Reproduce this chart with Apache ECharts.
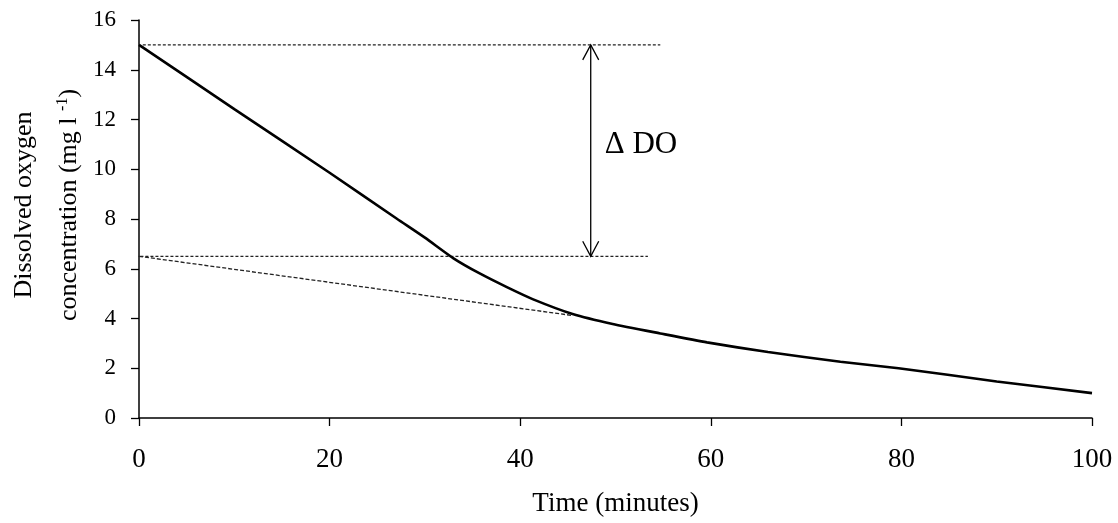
<!DOCTYPE html>
<html>
<head>
<meta charset="utf-8">
<script src="https://cdn.jsdelivr.net/npm/echarts@6/dist/echarts.min.js"></script>
<style>
  html, body { margin: 0; padding: 0; background: #fff; }
  #chart { width: 1118px; height: 523px; }
</style>
</head>
<body>
<div id="chart"></div>
<script>
// ---- Data ----
const timeMinutes = [0, 10, 20, 27.1, 30, 33, 35.8, 38.6, 41.3, 45.5, 49.7, 54.7, 59.6, 66, 73.6, 79.7, 90, 100];
const doValues    = [15, 12.42, 9.86, 8.0, 7.25, 6.42, 5.80, 5.26, 4.78, 4.18, 3.78, 3.40, 3.04, 2.65, 2.26, 2.0, 1.47, 1.0];

const upperRefX = [0.4, 54.7];
const upperRefY = [15, 15];
const lowerRefX = [-0.9, 53.4];
const lowerRefY = [6.5, 6.5];
const tangentX  = [0, 45.5];
const tangentY  = [6.5, 4.12];

const arrowX = 47.4;
const arrowTop = 15;
const arrowBottom = 6.5;
const deltaLabel = 'Δ DO';
const deltaLabelY = 11;

const xTicks = [0, 20, 40, 60, 80, 100];
const yTicks = [0, 2, 4, 6, 8, 10, 12, 14, 16];
const xTitle = 'Time (minutes)';
const yTitleLine1 = 'Dissolved oxygen';
const yTitleLine2 = 'concentration (mg l';
const yTitleSup = '-1';

// ---- Build ----
const zip = (xs, ys) => xs.map((x, i) => [x, ys[i]]);
const FONT = '"Liberation Serif", "Times New Roman", serif';

const chart = echarts.init(document.getElementById('chart'));
chart.setOption({
  backgroundColor: '#ffffff',
  animation: false,
  grid: { left: 139, right: 26, top: 20, bottom: 105, containLabel: false, outerBoundsMode: 'none' },
  xAxis: {
    type: 'value',
    min: xTicks[0], max: xTicks[xTicks.length - 1], interval: 20,
    name: xTitle,
    nameLocation: 'middle',
    nameGap: 72,
    nameMoveOverlap: false,
    nameTextStyle: { fontFamily: FONT, fontSize: 27, color: '#000' },
    axisLine: { lineStyle: { color: '#000', width: 1.5 } },
    axisTick: { show: true, inside: false, length: 8, lineStyle: { color: '#000', width: 1.3 } },
    axisLabel: { fontFamily: FONT, fontSize: 27, color: '#000', margin: 28 },
    splitLine: { show: false }
  },
  yAxis: {
    type: 'value',
    min: yTicks[0], max: yTicks[yTicks.length - 1], interval: 2,
    name: '{t|' + yTitleLine1 + '}\n{t|' + yTitleLine2 + ' }{s|' + yTitleSup + '}{t|)}',
    nameLocation: 'middle',
    nameRotate: 90,
    nameGap: 47,
    nameMoveOverlap: false,
    nameTextStyle: {
      fontFamily: FONT, fontSize: 26, color: '#000', lineHeight: 45,
      padding: [0, 0, 0, 28],
      rich: {
        t: { fontFamily: FONT, fontSize: 26, color: '#000', lineHeight: 45 },
        s: { fontFamily: FONT, fontSize: 16, color: '#000', lineHeight: 45, padding: [0, 0, 14, 0] }
      }
    },
    axisLine: { show: true, lineStyle: { color: '#000', width: 1.5 } },
    axisTick: { show: true, inside: false, length: 8, lineStyle: { color: '#000', width: 1.3 } },
    axisLabel: { fontFamily: FONT, fontSize: 23, color: '#000', margin: 23 },
    splitLine: { show: false }
  },
  series: [
    {
      type: 'line', data: zip(upperRefX, upperRefY), showSymbol: false, clip: false,
      lineStyle: { color: '#222', width: 1.3, type: [3, 2] }, z: 2
    },
    {
      type: 'line', data: zip(lowerRefX, lowerRefY), showSymbol: false, clip: false,
      lineStyle: { color: '#222', width: 1.3, type: [3, 2] }, z: 2
    },
    {
      type: 'line', data: zip(tangentX, tangentY), showSymbol: false,
      lineStyle: { color: '#222', width: 1.3, type: [4, 2] }, z: 2
    },
    {
      type: 'line', data: zip(timeMinutes, doValues), showSymbol: false,
      smooth: 0.2,
      lineStyle: { color: '#000', width: 2.6 }, z: 3
    },
    {
      type: 'custom',
      data: [[arrowX, arrowTop, arrowBottom, deltaLabelY]],
      z: 4,
      renderItem: function (params, api) {
        const x = api.value(0);
        const p1 = api.coord([x, api.value(1)]);
        const p2 = api.coord([x, api.value(2)]);
        const pl = api.coord([x, api.value(3)]);
        const st = { stroke: '#000', lineWidth: 1.3, fill: null };
        return {
          type: 'group',
          children: [
            { type: 'line', shape: { x1: p1[0], y1: p1[1], x2: p2[0], y2: p2[1] }, style: st },
            { type: 'polyline', shape: { points: [[p1[0] - 8, p1[1] + 15], [p1[0], p1[1]], [p1[0] + 8, p1[1] + 15]] }, style: st },
            { type: 'polyline', shape: { points: [[p2[0] - 8, p2[1] - 15], [p2[0], p2[1]], [p2[0] + 8, p2[1] - 15]] }, style: st },
            {
              type: 'text', x: pl[0] + 14, y: pl[1],
              style: {
                text: deltaLabel, fill: '#000',
                font: '31px ' + FONT,
                align: 'left', verticalAlign: 'middle'
              }
            }
          ]
        };
      }
    }
  ]
});
</script>
</body>
</html>
